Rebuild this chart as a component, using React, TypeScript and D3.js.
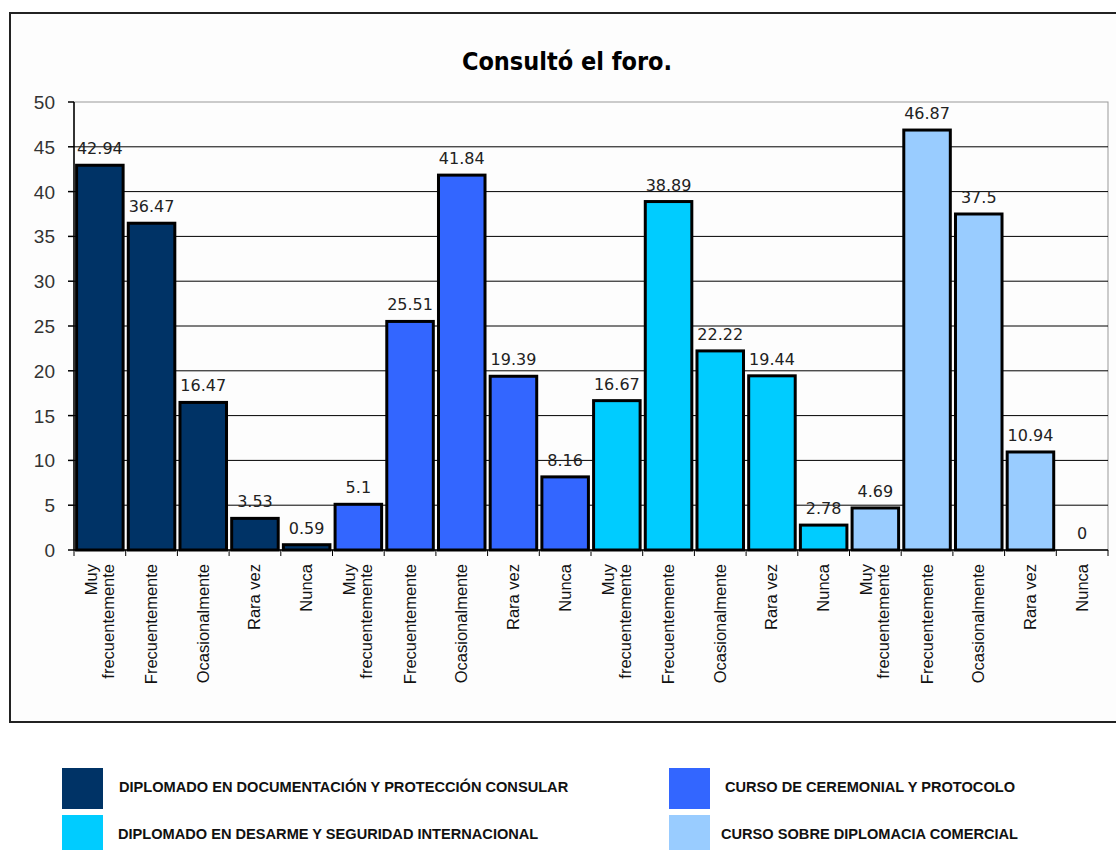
import React from "react";
import * as d3 from "d3";

const categories = [
  "Muy frecuentemente", "Frecuentemente", "Ocasionalmente", "Rara vez", "Nunca",
  "Muy frecuentemente", "Frecuentemente", "Ocasionalmente", "Rara vez", "Nunca",
  "Muy frecuentemente", "Frecuentemente", "Ocasionalmente", "Rara vez", "Nunca",
  "Muy frecuentemente", "Frecuentemente", "Ocasionalmente", "Rara vez", "Nunca",
];
const values = [
  42.94, 36.47, 16.47, 3.53, 0.59,
  5.1, 25.51, 41.84, 19.39, 8.16,
  16.67, 38.89, 22.22, 19.44, 2.78,
  4.69, 46.87, 37.5, 10.94, 0,
];
const valueLabels = [
  "42.94", "36.47", "16.47", "3.53", "0.59",
  "5.1", "25.51", "41.84", "19.39", "8.16",
  "16.67", "38.89", "22.22", "19.44", "2.78",
  "4.69", "46.87", "37.5", "10.94", "0",
];
const seriesNames = [
  "DIPLOMADO EN DOCUMENTACIÓN Y PROTECCIÓN CONSULAR",
  "CURSO DE CEREMONIAL Y PROTOCOLO",
  "DIPLOMADO EN DESARME Y SEGURIDAD INTERNACIONAL",
  "CURSO SOBRE DIPLOMACIA COMERCIAL",
];
const seriesColors = ["#003366", "#3366FF", "#00CCFF", "#99CCFF"];
const yTicks = [0, 5, 10, 15, 20, 25, 30, 35, 40, 45, 50];

export default function App() {
  const left = 74, right = 1108, top = 102, bottom = 550;
  const x = d3.scaleBand<number>().domain(d3.range(categories.length)).range([left, right]).paddingInner(0.1).paddingOuter(0.05);
  const step = (right - left) / categories.length;
  const y = d3.scaleLinear().domain([0, 50]).range([bottom, top]);

  const legendPos = [
    { sx: 62, sy: 768, tx: 119, ty: 792 },
    { sx: 669, sy: 768, tx: 725, ty: 792 },
    { sx: 62, sy: 815, tx: 118, ty: 839 },
    { sx: 669, sy: 815, tx: 721, ty: 839 },
  ];

  return (
    <svg width={1116} height={850} style={{ position: "absolute", left: 0, top: 0, background: "#fff" }}>
      <rect x={0} y={0} width={1116} height={850} fill="#fff" />
      <rect x={10} y={13} width={1120} height={709} fill="#fdfdfd" stroke="#222" strokeWidth={2} />
      <text x={567} y={70} textAnchor="middle" fontFamily="'DejaVu Sans Condensed', 'DejaVu Sans'" fontWeight="bold" fontSize={25} fill="#000">
        Consultó el foro.
      </text>
      <rect x={left} y={top} width={right - left} height={bottom - top} fill="none" stroke="#999" strokeWidth={1} />
      {yTicks.filter(t => t > 0 && t < 50).map(t => (
        <line key={"g" + t} x1={left} x2={right} y1={y(t)} y2={y(t)} stroke="#000" strokeWidth={1} />
      ))}
      {values.map((v, i) => (
        <rect key={"b" + i} x={x(i)!} y={y(v)} width={x.bandwidth()} height={bottom - y(v)}
          fill={seriesColors[Math.floor(i / 5)]} stroke="#000" strokeWidth={3} />
      ))}
      {values.map((v, i) => (
        <text key={"v" + i} x={x(i)! + x.bandwidth() / 2} y={y(v) - 11} textAnchor="middle"
          fontFamily="'DejaVu Sans'" fontSize={16} fill="#222">{valueLabels[i]}</text>
      ))}
      <line x1={left} x2={left} y1={top} y2={bottom} stroke="#000" strokeWidth={1.5} />
      <line x1={left} x2={right} y1={bottom} y2={bottom} stroke="#000" strokeWidth={1.5} />
      {yTicks.map(t => (
        <g key={"y" + t}>
          <line x1={left - 6} x2={left} y1={y(t)} y2={y(t)} stroke="#000" strokeWidth={1.5} />
          <text x={55} y={y(t) + 7} textAnchor="end" fontFamily="'Liberation Sans'" fontSize={19} fill="#333">{t}</text>
        </g>
      ))}
      {d3.range(categories.length + 1).map(i => (
        <line key={"xt" + i} x1={left + i * step} x2={left + i * step} y1={bottom} y2={bottom + 6} stroke="#000" strokeWidth={1} />
      ))}
      {categories.map((c, i) => {
        const cx = left + (i + 0.5) * step;
        const words = c === "Muy frecuentemente" ? ["Muy", "frecuentemente"] : [c];
        const lh = 17;
        const off = -((words.length - 1) * lh) / 2;
        return (
          <g key={"c" + i} transform={`translate(${cx},${bottom + 14}) rotate(-90)`}>
            {words.map((w, k) => (
              <text key={k} x={0} y={off + k * lh + 5.5} textAnchor="end" fontFamily="'Liberation Sans'" fontSize={16.5} fill="#111">{w}</text>
            ))}
          </g>
        );
      })}
      {seriesNames.map((s, k) => (
        <g key={"l" + k}>
          <rect x={legendPos[k].sx} y={legendPos[k].sy} width={41} height={41} fill={seriesColors[k]} />
          <text x={legendPos[k].tx} y={legendPos[k].ty} fontFamily="'Liberation Sans'" fontWeight="bold" fontSize={14.6} fill="#111">{s}</text>
        </g>
      ))}
    </svg>
  );
}
